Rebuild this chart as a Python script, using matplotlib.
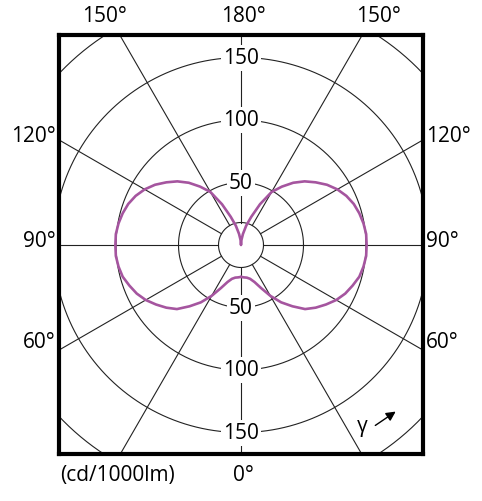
import numpy as np
import matplotlib.pyplot as plt

plt.rcParams['font.family'] = ['Open Sans', 'DejaVu Sans']

# luminous intensity (cd/1000lm) against gamma angle, one half of the symmetric curve
gamma = [0, 5, 10, 15, 20, 25, 30, 35, 40, 45, 50, 55, 60, 65, 70, 75, 80, 85, 90,
         95, 100, 105, 110, 115, 120, 125, 130, 135, 140, 145, 150, 155, 160, 165, 170, 175, 180]
intensity = [25.5, 26, 26.5, 28, 31.5, 38, 47, 56, 64, 72.5, 78, 83, 88, 92, 95, 98, 99.5, 100.5, 100.5,
             100.5, 99.5, 98, 96, 93, 89, 84, 78, 72, 65, 57, 49, 36, 24, 16, 9, 4, 0]

rings = [50, 100, 150, 200]
ring_labels = [50, 100, 150]
spoke_angles = list(range(0, 360, 30))
inner_r = 18

S = 1.25  # pixels per cd
CX, CY = 241, 246


def px(x, y):
    # pixel position of the reference picture -> data coords
    return (x - CX) / S, (CY - y) / S


fig = plt.figure(figsize=(4.82, 5.02), dpi=100)
ax = fig.add_axes([59 / 482, (502 - 455) / 502, 364 / 482, 419 / 502])
x0, y1 = px(59, 36)
x1, y0 = px(423, 455)
ax.set_xlim(x0, x1)
ax.set_ylim(y0, y1)
ax.set_aspect('equal')
ax.set_xticks([])
ax.set_yticks([])
for s in ax.spines.values():
    s.set_linewidth(3)

t = np.linspace(0, 2 * np.pi, 400)
for r in rings + [inner_r]:
    ax.plot(r * np.cos(t), r * np.sin(t), color='#222222', lw=0.8, zorder=1)

for a in spoke_angles:
    g = np.radians(a)
    ax.plot([inner_r * np.sin(g), 400 * np.sin(g)], [-inner_r * np.cos(g), -400 * np.cos(g)],
            color='#222222', lw=0.8, zorder=1)

g = np.radians(gamma)
r = np.array(intensity)
xr = r * np.sin(g)
yr = -r * np.cos(g)
# full curve: right half then mirrored left half
xs = np.concatenate([xr, -xr[::-1]])
ys = np.concatenate([yr, yr[::-1]])
ax.plot(xs, ys, color='#a5559f', lw=1.9, zorder=3,
        solid_capstyle='round', solid_joinstyle='round')

for v in ring_labels:
    for sgn in (1, -1):
        ax.text(0, sgn * v, str(v), ha='center', va='center', fontsize=15, zorder=4,
                bbox=dict(boxstyle='square,pad=0.12', fc='white', ec='none'))

labels = [
    ('150°', 105, 17, 'center'), ('180°', 243, 17, 'center'), ('150°', 379, 17, 'center'),
    ('120°', 56, 137, 'right'), ('90°', 56, 242, 'right'), ('60°', 56, 343, 'right'),
    ('120°', 426, 137, 'left'), ('90°', 426, 242, 'left'), ('60°', 426, 343, 'left'),
    ('0°', 243, 476, 'center'), ('(cd/1000lm)', 60, 476, 'left'),
]
for txt, lx, ly, ha in labels:
    x, y = px(lx, ly)
    ax.text(x, y, txt, ha=ha, va='center', fontsize=15, clip_on=False)

x, y = px(362, 427)
ax.text(x, y, 'γ', ha='center', va='center', fontsize=15)
ax.annotate('', xy=px(398, 411), xytext=px(373, 428),
            arrowprops=dict(arrowstyle='-|>', color='black', lw=1.0, mutation_scale=14))

fig.savefig('out.png', dpi=100)
